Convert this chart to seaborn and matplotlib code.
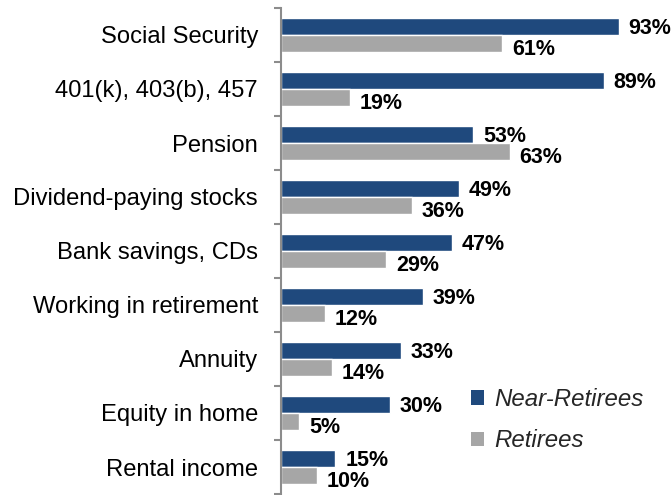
import matplotlib
matplotlib.use("Agg")
import matplotlib.pyplot as plt
import seaborn as sns
import pandas as pd
from matplotlib.patches import Patch

categories = ["Social Security", "401(k), 403(b), 457", "Pension", "Dividend-paying stocks",
              "Bank savings, CDs", "Working in retirement", "Annuity", "Equity in home", "Rental income"]
near_retirees = [93, 89, 53, 49, 47, 39, 33, 30, 15]
retirees = [61, 19, 63, 36, 29, 12, 14, 5, 10]
series = ["Near-Retirees", "Retirees"]
colors = ["#1F497D", "#A6A6A6"]

df = pd.DataFrame({
    "category": categories * 2,
    "value": near_retirees + retirees,
    "group": [series[0]] * len(categories) + [series[1]] * len(categories),
})

sns.set_style("white")
plt.rcParams["font.family"] = ["Liberation Sans", "DejaVu Sans"]

fig = plt.figure(figsize=(6.72, 4.95), dpi=100)
ax = fig.add_axes([281 / 672, 1 / 495, (644 - 281) / 672, 486 / 495])

sns.barplot(data=df, y="category", x="value", hue="group", order=categories,
            hue_order=series, palette=colors, orient="h", width=0.63,
            saturation=1, ax=ax, legend=False)

ax.set_xlim(0, 100)
ax.set_ylim(len(categories) - 0.5, -0.5)
ax.set_xlabel("")
ax.set_ylabel("")
ax.set_xticks([])
for s in ["top", "right", "bottom"]:
    ax.spines[s].set_visible(False)
ax.spines["left"].set_color("#8C8C8C")
ax.spines["left"].set_linewidth(1.5)

ax.set_yticks(range(len(categories)))
ax.set_yticklabels(categories, fontsize=17.1, color="#000000")
ax.tick_params(axis="y", which="major", left=True, length=0, pad=16.5)
ax.set_yticks([i - 0.5 for i in range(len(categories) + 1)], minor=True)
ax.tick_params(axis="y", which="minor", left=True, length=5, width=1.5,
               color="#8C8C8C", direction="out")

for cont, off in zip(ax.containers, [0.04, 0.11]):
    for bar in cont:
        w = bar.get_width()
        yc = bar.get_y() + bar.get_height() / 2 + off
        ax.annotate(f"{int(round(w))}%", (w, yc), xytext=(7, 0), textcoords="offset points",
                    ha="left", va="center", fontsize=15.5, fontweight="bold", color="#000000",
                    annotation_clip=False)

handles = [Patch(facecolor=c, edgecolor="none") for c in colors]
leg = fig.legend(handles, series, loc="upper left", bbox_to_anchor=(452 / 672, 1 - 369 / 495),
                 frameon=False, prop={"style": "italic", "size": 17.3},
                 handlelength=0.55, handleheight=0.55, handletextpad=0.4, labelspacing=0.75,
                 borderpad=0.3)

fig.savefig("out.png", dpi=100)
